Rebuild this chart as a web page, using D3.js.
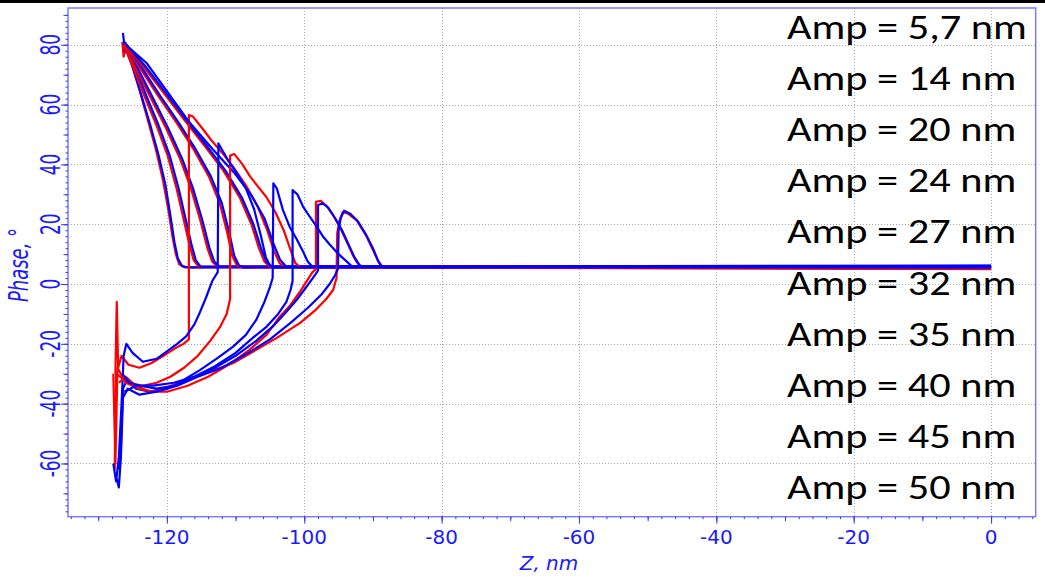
<!DOCTYPE html>
<html>
<meta charset="utf-8">
<style>
  body { margin: 0; background: #fff; }
  svg { display: block; }
</style>
<body>
<div id="chart"></div>
<script src="https://d3js.org/d3.v7.min.js"></script>
<script>

// axis ticks and legend text
var xTicks = [-120, -100, -80, -60, -40, -20, 0];
var yTicks = [-60, -40, -20, 0, 20, 40, 60, 80];
var ampLabels = ["Amp = 5,7 nm", "Amp = 14 nm", "Amp = 20 nm", "Amp = 24 nm", "Amp = 27 nm",
                 "Amp = 32 nm", "Amp = 35 nm", "Amp = 40 nm", "Amp = 45 nm", "Amp = 50 nm"];

// phase curves, [Z nm, phase deg]
var upper0Red  = [[-126.5,81],[-126.3,76],[-126,79],[-125.2,74],[-124,65],[-122.8,55],[-121.6,45],[-120.6,35],[-119.8,25],[-119.2,16],[-118.7,10],[-118.2,6.6],[-117.4,5.6],[0,5.4]];
var upper0Blue = [[-126.4,84],[-126.1,78],[-125.7,77],[-124.9,72],[-123.7,63],[-122.4,53],[-121.2,43],[-120.2,33],[-119.5,23],[-118.9,14],[-118.4,8.5],[-117.8,6],[-117,5.6],[0,5.8]];
var upper1Red  = [[-126.3,80],[-125,73],[-123.3,63],[-121.5,53],[-119.9,43],[-118.6,32],[-117.5,21],[-116.7,13],[-116.1,8],[-115.4,5.8],[0,5.2]];
var upper1Blue = [[-126.1,81],[-124.7,73],[-123,63],[-121.2,53],[-119.6,43],[-118.3,32],[-117.2,21],[-116.4,13],[-115.8,8],[-115.1,5.8],[0,6.0]];
var upper2Red  = [[-126.2,80],[-124.5,72],[-122.3,62],[-120.1,52],[-118.1,42],[-116.5,32],[-115.1,21],[-114.1,12],[-113.4,7.5],[-112.6,5.8],[0,5.5]];
var upper2Blue = [[-126,80],[-124.2,72],[-122,62],[-119.8,52],[-117.8,42],[-116.2,32],[-114.8,21],[-113.8,12],[-113.1,7.5],[-112.3,5.8],[0,5.6]];
var upper3Red  = [[-126.1,80],[-124,72.5],[-121.3,63],[-118.6,54],[-116.1,45],[-113.9,36],[-112.3,27],[-111.2,17],[-110.5,9.5],[-109.8,6.2],[-109.1,5.6],[0,5.1]];
var upper3Blue = [[-125.9,80],[-123.7,72.5],[-121,63],[-118.3,54],[-115.8,45],[-113.6,36],[-112,27],[-110.9,17],[-110.2,9.5],[-109.5,6.2],[-108.8,5.6],[0,6.1]];
var upper4Red  = [[-126.1,80],[-123.5,73],[-120.5,64],[-117.5,55],[-114.6,46.5],[-111.8,38],[-109.4,29],[-107.7,20],[-106.6,12],[-105.8,7.5],[-105,5.8],[0,5.3]];
var upper4Blue = [[-125.9,80],[-123.2,73],[-120.2,64],[-117.2,55],[-114.3,46.5],[-111.5,38],[-109.1,29],[-107.4,20],[-106.3,12],[-105.5,7.5],[-104.7,5.8],[0,5.9]];
var upper5Blue = [[-126,80],[-123,74],[-120,64.5],[-116.7,54],[-113.3,45],[-110.3,37.5],[-107.8,30],[-105.8,22],[-104.4,13],[-103.5,8],[-102.6,5.8],[0,5.7]];

var lowerARed  = [[-127.5,-30],[-127.3,-6],[-127.1,-28],[-126.6,-24],[-125.6,-27],[-124,-28],[-122.3,-26.5],[-120.5,-24],[-118.8,-21.5],[-117.6,-20],[-116.8,-18.5],[-116.8,56.5],[-116.2,56],[-115,52.5],[-113.5,48],[-112,44],[-110.3,39],[-108.5,33],[-106.8,26],[-105.4,18],[-104.4,11],[-103.6,7],[-102.8,5.7],[0,5.3]];
var lowerABlue = [[-127.8,-60],[-127.4,-66],[-127,-58],[-126.6,-40],[-126.3,-24],[-125.9,-20],[-125,-23],[-123.5,-26],[-121.5,-25],[-120,-22.5],[-118.5,-20],[-117.2,-17.5],[-116,-13.5],[-115.2,-9.5],[-114.3,-4.5],[-113.4,1],[-112.6,4],[-112.5,47],[-112,45],[-111,41],[-109.8,37],[-108.5,32],[-107.3,25],[-106.3,16],[-105.6,9],[-105,6.2],[-104.4,5.6],[0,5.8]];
var lowerBRed  = [[-127.6,-62],[-127.4,-30],[-126.8,-31],[-125.5,-33],[-123.5,-34],[-121.5,-33],[-119.5,-31],[-117.5,-28],[-115.5,-24],[-113.7,-19],[-112.3,-14.5],[-111.3,-10],[-110.8,-5],[-110.8,43],[-110.2,43.5],[-109,40],[-107.9,36],[-106.7,32.5],[-105.5,29],[-104.2,24],[-103,18],[-102,11.4],[-101.3,7],[-100.6,5.7],[0,5.0]];
var lowerCBlue = [[-127,-62],[-126.7,-55],[-126.4,-35],[-125.8,-32],[-124.5,-35],[-122.5,-36],[-120,-35],[-117.5,-32],[-115.2,-28.8],[-112.8,-25],[-110.4,-21],[-108.5,-17],[-107,-12],[-105.8,-6],[-105,-1],[-104.6,2],[-104.5,33.7],[-104,32],[-103.1,24.7],[-102.1,19],[-101.1,15],[-100.2,11],[-99.5,7.5],[-98.8,5.8],[0,6.2]];
var lowerDBlue = [[-126.5,-30],[-125.5,-33],[-124,-34],[-121.5,-35],[-119,-34],[-116,-31],[-113,-27.5],[-110,-23],[-107.5,-18],[-105.5,-14.3],[-103.8,-10],[-102.6,-6],[-102,-2],[-101.7,1],[-101.7,31.4],[-101,30],[-100.2,26],[-99.2,22.5],[-98.2,19.2],[-97.3,16],[-96.3,13.2],[-95,10],[-93.8,7.5],[-93,5.8],[0,5.5]];
var lowerERed  = [[-127,-33],[-126,-31],[-124.5,-34],[-122.5,-36],[-120,-36],[-117,-34],[-114,-31],[-111,-27],[-108,-22],[-105.5,-17],[-103.6,-11],[-102,-7],[-100.6,-2.5],[-99.5,1.5],[-98.8,4],[-98.3,5],[-98.3,27.5],[-97.6,27.8],[-96.7,26],[-95.8,23],[-94.8,19],[-93.8,14],[-93,10],[-92.4,7.5],[-91.8,5.7],[0,5.6]];
var lowerFBlue = [[-126.2,-36],[-124.5,-34],[-122,-34],[-119,-33],[-116,-31],[-113,-28],[-110,-24],[-107,-19],[-104.5,-14],[-102.5,-9],[-101,-5],[-99.7,-1],[-98.6,2.5],[-98,4.5],[-98,26.4],[-97.3,27],[-96.5,25.5],[-95.5,22],[-94.5,18],[-93.5,13],[-92.7,9],[-92,6.5],[-91.5,5.7],[0,5.9]];
var lowerGRed  = [[-127.8,-30],[-127.5,-60],[-127.2,-28],[-126,-33],[-124,-35],[-122,-36],[-120,-34.5],[-117,-32],[-114,-29.5],[-110.4,-26.5],[-107,-22],[-104,-18],[-100.6,-13],[-98.5,-9],[-96.8,-5],[-95.8,-2],[-95.3,2],[-95.2,17],[-94.9,21],[-94.4,24],[-93.6,23.5],[-92.4,21.4],[-90.9,15.8],[-90,11.4],[-89.2,7.5],[-88.6,5.8],[0,5.4]];
var lowerHBlue = [[-127.3,-65],[-127,-68],[-126.7,-58],[-126.4,-38],[-125.7,-35],[-124,-37],[-121.5,-36],[-118.5,-34],[-115.5,-31],[-112,-28],[-108.5,-23.5],[-105,-18.5],[-102,-13],[-99.5,-8],[-97.5,-3.5],[-96.3,0],[-95.5,3],[-95.1,5],[-95,18],[-94.7,22],[-94.2,24.5],[-93.3,23.5],[-92.2,21],[-91,16.5],[-90,12],[-89.3,8],[-88.8,6],[-88.3,5.6],[0,5.7]];

var redTraces  = [upper0Red, upper1Red, upper2Red, upper3Red, upper4Red, lowerARed, lowerBRed, lowerERed, lowerGRed];
var blueTraces = [upper0Blue, upper1Blue, upper2Blue, upper3Blue, upper4Blue, upper5Blue, lowerABlue, lowerCBlue, lowerDBlue, lowerFBlue, lowerHBlue];

// layout
var width = 1045, height = 577;
var plot = {left: 68, right: 1035.7, top: 8, bottom: 516.7};
var axisColor = "#7b7bff", labelColor = "#1a1aff";

var svg = d3.select("#chart").append("svg")
    .attr("width", width)
    .attr("height", height);

// black strip along the top edge
svg.append("rect").attr("x", 0).attr("y", 0).attr("width", width).attr("height", 3).attr("fill", "#000");

var x = d3.scaleLinear().domain([-134.4, 6.5]).range([plot.left, plot.right]);
var y = d3.scaleLinear().domain([-77.8, 92.3]).range([plot.bottom, plot.top]);

// dotted grid
var grid = svg.append("g").attr("stroke", "#a6a6a6").attr("stroke-dasharray", "1,2").attr("stroke-width", 1);
grid.selectAll(".gx").data(xTicks).enter().append("line")
    .attr("x1", function(d) { return Math.round(x(d)) + 0.5; })
    .attr("x2", function(d) { return Math.round(x(d)) + 0.5; })
    .attr("y1", plot.top).attr("y2", plot.bottom);
grid.selectAll(".gy").data(yTicks).enter().append("line")
    .attr("y1", function(d) { return Math.round(y(d)) + 0.5; })
    .attr("y2", function(d) { return Math.round(y(d)) + 0.5; })
    .attr("x1", plot.left).attr("x2", plot.right);

// curves
var line = d3.line()
    .x(function(d) { return x(d[0]); })
    .y(function(d) { return y(d[1]); });

var curves = svg.append("g").attr("fill", "none").attr("stroke-width", 2.2).attr("stroke-linejoin", "round");
for (var i = 0; i < Math.max(redTraces.length, blueTraces.length); i++) {
  if (redTraces[i]) curves.append("path").datum(redTraces[i]).attr("d", line).attr("stroke", "#ff0000");
  if (blueTraces[i]) curves.append("path").datum(blueTraces[i]).attr("d", line).attr("stroke", "#0000ff");
}

// frame
svg.append("rect")
    .attr("x", plot.left).attr("y", plot.top)
    .attr("width", plot.right - plot.left).attr("height", plot.bottom - plot.top)
    .attr("fill", "none").attr("stroke", axisColor).attr("stroke-width", 1.5);

// ticks: minor every 2, medium every 10, major every 20
function tickGroup(axis, values, size, transform) {
  var g = svg.append("g").attr("transform", transform)
      .call(axis.tickValues(values).tickSize(size).tickFormat(""));
  g.select(".domain").remove();
  g.selectAll("line").attr("stroke", "#3a3aff");
  return g;
}
var xMinor = d3.range(-134, 7, 2), yMinor = d3.range(-76, 92, 2);
tickGroup(d3.axisBottom(x), xMinor, 2.5, "translate(0," + plot.bottom + ")");
tickGroup(d3.axisBottom(x), d3.range(-130, 7, 10), 4.5, "translate(0," + plot.bottom + ")");
tickGroup(d3.axisBottom(x), xTicks, 7, "translate(0," + plot.bottom + ")");
tickGroup(d3.axisLeft(y), yMinor, 2.5, "translate(" + plot.left + ",0)");
tickGroup(d3.axisLeft(y), d3.range(-70, 92, 10), 4.5, "translate(" + plot.left + ",0)");
tickGroup(d3.axisLeft(y), yTicks, 7, "translate(" + plot.left + ",0)");

// tick labels
svg.append("g").selectAll("text").data(xTicks).enter().append("text")
    .attr("x", function(d) { return x(d); })
    .attr("y", 543.5)
    .attr("text-anchor", "middle")
    .style("font-family", "DejaVu Sans, Verdana, sans-serif")
    .style("font-size", "20px")
    .attr("fill", labelColor)
    .text(function(d) { return d; });

svg.append("g").selectAll("text").data(yTicks).enter().append("text")
    .attr("transform", function(d) { return "translate(59.5," + y(d) + ") rotate(-90) scale(0.85,1.32)"; })
    .attr("text-anchor", "middle")
    .style("font-family", "DejaVu Sans, Verdana, sans-serif")
    .style("font-size", "20px")
    .attr("fill", labelColor)
    .text(function(d) { return d; });

// axis titles
svg.append("text")
    .attr("x", 549).attr("y", 570)
    .attr("text-anchor", "middle")
    .style("font-family", "DejaVu Sans, Verdana, sans-serif")
    .style("font-style", "italic")
    .style("font-size", "20px")
    .attr("fill", labelColor)
    .text("Z, nm");

svg.append("text")
    .attr("transform", "translate(27.5,265) rotate(-90) scale(0.9,1.3)")
    .attr("text-anchor", "middle")
    .style("font-family", "DejaVu Sans, Verdana, sans-serif")
    .style("font-style", "italic")
    .style("font-size", "20px")
    .attr("fill", labelColor)
    .text("Phase, °");

// amplitude list on the right
svg.append("g").selectAll("text").data(ampLabels).enter().append("text")
    .attr("transform", function(d, i) { return "translate(787," + (38.5 + i * 51.2) + ") scale(1.21,1)"; })
    .style("font-family", "Carlito, Calibri, Lato, sans-serif")
    .style("font-size", "35px")
    .attr("fill", "#000")
    .text(function(d) { return d; });

</script>
</body>
</html>
